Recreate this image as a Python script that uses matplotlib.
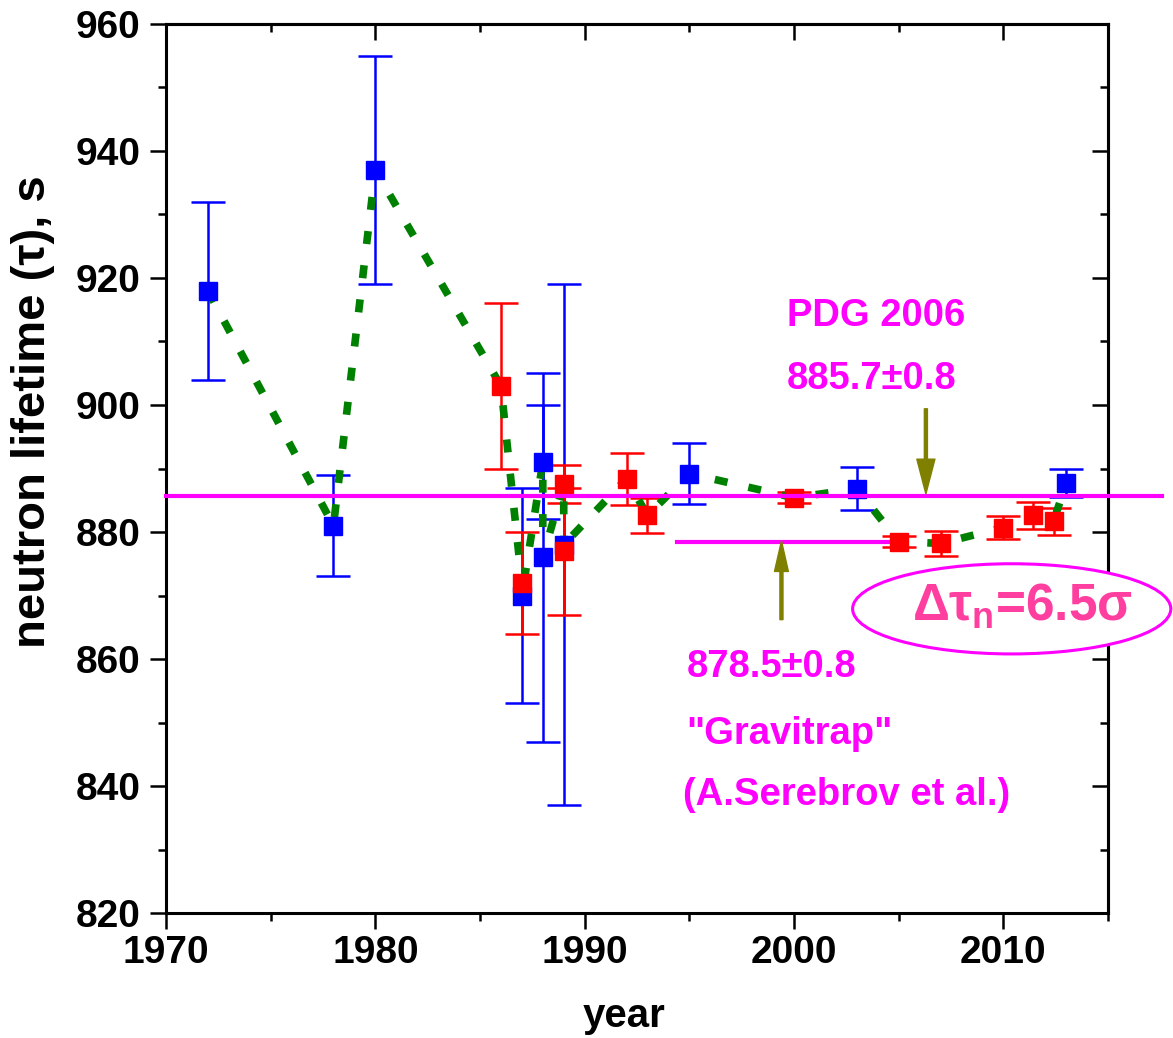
import matplotlib
matplotlib.use("Agg")
import matplotlib.pyplot as plt
from matplotlib.patches import Ellipse
from matplotlib.ticker import MultipleLocator

# beam-type measurements (blue)
blue_year = [1972, 1978, 1980, 1987, 1988, 1988, 1989, 1995, 2003, 2013]
blue_tau = [918, 881, 937, 870, 891, 876, 878, 889.2, 886.8, 887.7]
blue_err = [14, 8, 18, 17, 9, 29, 41, 4.8, 3.4, 2.2]

# UCN storage measurements (red)
red_year = [1986, 1987, 1989, 1989, 1992, 1993, 2000, 2005, 2007, 2010, 2011.4, 2012.4]
red_tau = [903, 872, 887.6, 877, 888.4, 882.6, 885.4, 878.5, 878.2, 880.7, 882.6, 881.7]
red_err = [13, 8, 3.0, 10, 4.1, 2.7, 0.9, 0.8, 1.9, 1.8, 2.1, 2.1]

# chronological path through all points (green dotted)
path_year = [1972, 1978, 1980, 1986, 1987, 1987, 1988, 1988, 1989, 1989, 1989,
             1992, 1993, 1995, 2000, 2003, 2005, 2007, 2010, 2011.4, 2012.4, 2013]
path_tau = [918, 881, 937, 903, 872, 870, 891, 876, 887.6, 877, 878,
            888.4, 882.6, 889.2, 885.4, 886.8, 878.5, 878.2, 880.7, 882.6, 881.7, 887.7]

pdg_tau = 885.7
gravitrap_tau = 878.5

MAGENTA = "#ff00ff"
OLIVE = "#808000"
PINK = "#ff3fa0"

plt.rcParams["font.family"] = ["Liberation Sans", "DejaVu Sans"]
plt.rcParams["font.weight"] = "bold"
plt.rcParams["axes.labelweight"] = "bold"
plt.rcParams["mathtext.fontset"] = "custom"
plt.rcParams["mathtext.rm"] = "Liberation Sans"
plt.rcParams["mathtext.it"] = "Liberation Sans"
plt.rcParams["mathtext.bf"] = "Liberation Sans:bold"

fig = plt.figure(figsize=(11.73, 10.38), dpi=100)
ax = fig.add_axes([0.1415, 0.1204, 0.8031, 0.8565])

ax.errorbar(blue_year, blue_tau, yerr=blue_err, fmt="none", ecolor="blue",
            elinewidth=1.8, capsize=12, capthick=1.8, zorder=2)
ax.errorbar(red_year, red_tau, yerr=red_err, fmt="none", ecolor="red",
            elinewidth=1.8, capsize=12, capthick=1.8, zorder=2)
ax.plot(path_year, path_tau, color="green", lw=5.5,
        linestyle=(0, (1.7, 2.8)), dash_capstyle="butt", zorder=3)
ax.plot(blue_year, blue_tau, "s", color="blue", ms=12.5, zorder=4)
ax.plot(red_year, red_tau, "s", color="red", ms=12.5, zorder=5)

# PDG average and Gravitrap result
ax.plot([1970, 2017.6], [pdg_tau, pdg_tau], color=MAGENTA, lw=3, clip_on=False, zorder=6)
ax.plot([1994.4, 2005], [gravitrap_tau, gravitrap_tau], color=MAGENTA, lw=3, zorder=3)

ax.annotate("", xy=(1999.4, 878.6), xytext=(1999.4, 866.2),
            arrowprops=dict(color=OLIVE, width=2.2, headwidth=10, headlength=22, shrink=0))
ax.annotate("", xy=(2006.3, 886.0), xytext=(2006.3, 899.4),
            arrowprops=dict(color=OLIVE, width=2.2, headwidth=13, headlength=25, shrink=0))

ax.text(1999.65, 912.5, "PDG 2006", color=MAGENTA, fontsize=27.5, va="baseline")
ax.text(1999.65, 902.5, "885.7\u00b10.8", color=MAGENTA, fontsize=27.5, va="baseline")
ax.text(1994.9, 857.2, "878.5\u00b10.8", color=MAGENTA, fontsize=27.5, va="baseline")
ax.text(1994.85, 846.6, "\"Gravitrap\"", color=MAGENTA, fontsize=27.5, va="baseline")
ax.text(1994.7, 837.0, "(A.Serebrov et al.)", color=MAGENTA, fontsize=27.5, va="baseline")

ell = Ellipse((2010.4, 867.9), width=15.2, height=14.2, facecolor="white",
              edgecolor=MAGENTA, lw=2.2, clip_on=False, zorder=7)
ax.add_patch(ell)
ax.text(2010.9, 866.0, r"$\Delta\tau_{\mathbf{n}}$=6.5$\sigma$", color=PINK,
        fontsize=37, ha="center", va="baseline", clip_on=False, zorder=8)

ax.set_xlim(1970, 2015)
ax.set_ylim(820, 960)
ax.xaxis.set_major_locator(MultipleLocator(10))
ax.xaxis.set_minor_locator(MultipleLocator(5))
ax.yaxis.set_major_locator(MultipleLocator(20))
ax.yaxis.set_minor_locator(MultipleLocator(10))
ax.tick_params(which="both", direction="out", width=1.8, labelsize=28, pad=4)
ax.tick_params(which="major", length=11.5)
ax.tick_params(which="minor", length=5.8)
ax.tick_params(axis="y", pad=7)
for s in ax.spines.values():
    s.set_linewidth(2.2)

# mirrored ticks on top and right, pointing inward
top = ax.secondary_xaxis("top")
top.xaxis.set_major_locator(MultipleLocator(10))
top.xaxis.set_minor_locator(MultipleLocator(5))
top.tick_params(which="both", direction="in", width=1.8, labeltop=False)
top.tick_params(which="major", length=11.5)
top.tick_params(which="minor", length=5.8)
top.spines["top"].set_linewidth(2.2)
right = ax.secondary_yaxis("right")
right.yaxis.set_major_locator(MultipleLocator(20))
right.yaxis.set_minor_locator(MultipleLocator(10))
right.tick_params(which="both", direction="in", width=1.8, labelright=False)
right.tick_params(which="major", length=11.5)
right.tick_params(which="minor", length=5.8)
right.spines["right"].set_linewidth(2.2)

ax.set_xlabel("year", fontsize=29, fontweight="bold")
ax.set_ylabel("neutron lifetime (\u03c4), s", fontsize=34, fontweight="bold")
ax.xaxis.set_label_coords(0.486, -0.094)
ax.yaxis.set_label_coords(-0.118, 0.5636)

fig.savefig("out.png", dpi=100)
